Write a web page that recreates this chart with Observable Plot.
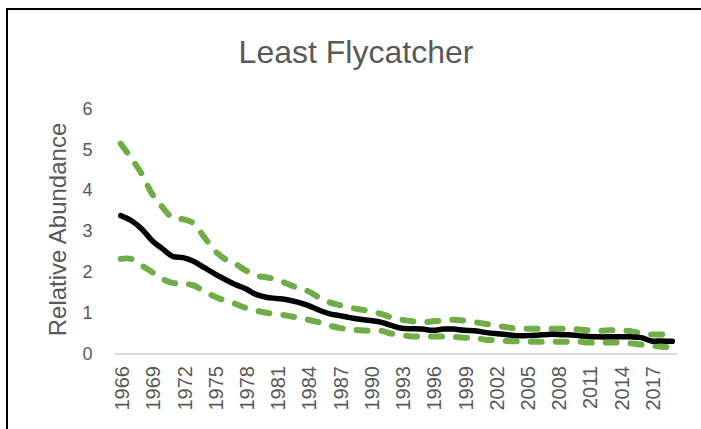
<!DOCTYPE html>
<html>
<head>
<meta charset="utf-8">
<script src="https://cdn.jsdelivr.net/npm/d3@7"></script>
<script src="https://cdn.jsdelivr.net/npm/@observablehq/plot@0.6"></script>
<style>
  html, body { margin: 0; padding: 0; background: #fff; }
  #wrap { position: relative; width: 701px; height: 429px; overflow: hidden; font-family: "Liberation Sans", Arial, sans-serif; }
  #title { height: 44px; padding-top: 36px; padding-left: 11px; line-height: 32px; font-size: 32px; color: #595959; text-align: center; width: 690px; }
  #frame { position: absolute; left: 6px; top: 8px; width: 800px; height: 500px; border-top: 2px solid #000; border-left: 2px solid #000; pointer-events: none; }
  svg { display: block; }
</style>
</head>
<body>
<div id="wrap">
  <div id="title">Least Flycatcher</div>
  <div id="chart"></div>
  <div id="frame"></div>
</div>
<script>
const years = d3.range(1966, 2020);
const meanValues = [3.39, 3.27, 3.07, 2.78, 2.58, 2.39, 2.36, 2.27, 2.12, 1.97,
  1.83, 1.70, 1.60, 1.46, 1.39, 1.36, 1.33, 1.27, 1.19, 1.08,
  0.99, 0.94, 0.89, 0.85, 0.82, 0.78, 0.70, 0.63, 0.62, 0.61,
  0.58, 0.61, 0.61, 0.58, 0.57, 0.53, 0.50, 0.48, 0.45, 0.45,
  0.46, 0.48, 0.48, 0.47, 0.45, 0.43, 0.42, 0.42, 0.42, 0.42,
  0.40, 0.32, 0.32, 0.31];
const upperValues = [5.15, 4.80, 4.42, 3.93, 3.60, 3.33, 3.30, 3.20, 2.87, 2.54,
  2.33, 2.21, 2.05, 1.92, 1.88, 1.82, 1.72, 1.62, 1.54, 1.39,
  1.27, 1.20, 1.14, 1.09, 1.05, 0.98, 0.90, 0.84, 0.80, 0.78,
  0.80, 0.82, 0.84, 0.82, 0.78, 0.74, 0.70, 0.66, 0.62, 0.62,
  0.62, 0.62, 0.62, 0.62, 0.60, 0.58, 0.57, 0.58, 0.58, 0.56,
  0.51, 0.48, 0.48, 0.47];
const lowerValues = [2.33, 2.33, 2.17, 2.01, 1.84, 1.74, 1.72, 1.68, 1.54, 1.41,
  1.31, 1.23, 1.13, 1.06, 1.01, 0.98, 0.94, 0.89, 0.84, 0.78,
  0.70, 0.64, 0.60, 0.58, 0.57, 0.57, 0.50, 0.46, 0.43, 0.43,
  0.43, 0.43, 0.42, 0.40, 0.40, 0.35, 0.34, 0.32, 0.31, 0.30,
  0.30, 0.30, 0.30, 0.30, 0.30, 0.28, 0.28, 0.28, 0.28, 0.26,
  0.23, 0.21, 0.18, 0.17];
const xTickLabels = years.filter((d, i) => i % 3 === 0);
const yTickLabels = [0, 1, 2, 3, 4, 5, 6];
const yTitle = "Relative Abundance";

const rows = years.map((y, i) => ({year: y, mean: meanValues[i], upper: upperValues[i], lower: lowerValues[i]}));

const green = "#70AD47";
const grey = "#595959";

const chart = Plot.plot({
  width: 701,
  height: 349,
  marginLeft: 115,
  marginRight: 24,
  marginTop: 28.5,
  marginBottom: 75.5,
  style: {fontFamily: "'Liberation Sans', Arial, sans-serif", color: grey, background: "transparent", overflow: "visible"},
  x: {type: "linear", domain: [1966, 2019], range: [120.2, 671.8]},
  y: {domain: [0, 6]},
  marks: [
    Plot.ruleY([0], {stroke: "#d9d9d9", strokeWidth: 2}),
    Plot.axisX({ticks: xTickLabels, tickFormat: d => String(d), tickSize: 0, tickPadding: 12, tickRotate: -90, dx: 2, fontSize: 20, fill: grey, label: null}),
    Plot.axisY({ticks: yTickLabels, tickFormat: d => String(d), tickSize: 0, tickPadding: 23, fontSize: 18, fill: grey, label: null}),
    Plot.text([yTitle], {frameAnchor: "left", textAnchor: "middle", rotate: -90, dx: -57, dy: -2, fontSize: 24, fill: grey}),
    Plot.line(rows, {x: "year", y: "upper", stroke: green, strokeWidth: 6, strokeDasharray: "11,14", strokeLinecap: "round", curve: "catmull-rom"}),
    Plot.line(rows, {x: "year", y: "lower", stroke: green, strokeWidth: 6, strokeDasharray: "11,14", strokeLinecap: "round", curve: "catmull-rom"}),
    Plot.line(rows, {x: "year", y: "mean", stroke: "#000", strokeWidth: 5.5, strokeLinecap: "round", curve: "catmull-rom"})
  ]
});
document.getElementById("chart").appendChild(chart);
</script>
</body>
</html>
